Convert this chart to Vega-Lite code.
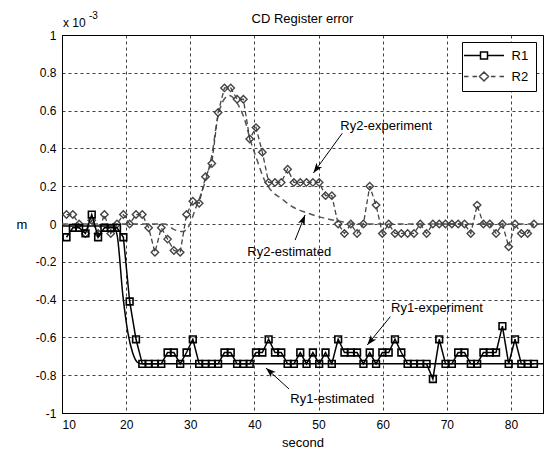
{
 "$schema": "https://vega.github.io/schema/vega-lite/v6.json",
 "width": 481,
 "height": 378,
 "autosize": {"type": "none"},
 "padding": {"left": 62, "top": 35, "right": 4, "bottom": 42},
 "background": "white",
 "title": {"text": "CD Register error", "font": "Liberation Sans", "fontSize": 13, "fontWeight": "normal", "color": "#000", "offset": -15, "anchor": "middle"},
 "config": {
  "view": {"stroke": "#000", "strokeWidth": 1},
  "font": "Liberation Sans",
  "axis": {"labelFont": "Liberation Sans", "labelFontSize": 12, "labelColor": "#000", "titleFont": "Liberation Sans", "titleFontSize": 13, "titleFontWeight": "normal", "titleColor": "#000", "domainColor": "#000", "tickSize": 0, "grid": true, "gridColor": "#000", "gridDash": [3, 3], "gridOpacity": 0.75, "gridWidth": 1},
  "legend": {"orient": "top-right", "offset": 7, "padding": 7, "strokeColor": "#000", "fillColor": "#fff", "labelFont": "Liberation Sans", "labelFontSize": 13, "labelColor": "#000", "symbolSize": 100, "symbolStrokeWidth": 1.5, "symbolOffset": 8.5, "rowPadding": 6, "labelOffset": 21, "cornerRadius": 0, "strokeWidth": 1}
 },
 "datasets": {
  "exp": [
   {"t": 10.70, "r1": -0.07, "r2": 0.05},
   {"t": 11.69, "r1": -0.02, "r2": 0.05},
   {"t": 12.67, "r1": -0.02, "r2": 0.0},
   {"t": 13.66, "r1": -0.05, "r2": -0.05},
   {"t": 14.64, "r1": 0.05, "r2": 0.02},
   {"t": 15.63, "r1": -0.07, "r2": -0.05},
   {"t": 16.61, "r1": -0.02, "r2": 0.05},
   {"t": 17.60, "r1": -0.02, "r2": -0.05},
   {"t": 18.58, "r1": -0.02, "r2": 0.0},
   {"t": 19.57, "r1": -0.07, "r2": 0.05},
   {"t": 20.55, "r1": -0.41, "r2": 0.0},
   {"t": 21.54, "r1": -0.61, "r2": 0.05},
   {"t": 22.52, "r1": -0.74, "r2": 0.05},
   {"t": 23.51, "r1": -0.74, "r2": -0.02},
   {"t": 24.49, "r1": -0.74, "r2": -0.15},
   {"t": 25.48, "r1": -0.74, "r2": -0.02},
   {"t": 26.46, "r1": -0.68, "r2": -0.08},
   {"t": 27.45, "r1": -0.68, "r2": -0.14},
   {"t": 28.43, "r1": -0.74, "r2": -0.15},
   {"t": 29.42, "r1": -0.68, "r2": 0.05},
   {"t": 30.40, "r1": -0.61, "r2": 0.12},
   {"t": 31.39, "r1": -0.74, "r2": 0.11},
   {"t": 32.37, "r1": -0.74, "r2": 0.25},
   {"t": 33.36, "r1": -0.74, "r2": 0.32},
   {"t": 34.34, "r1": -0.74, "r2": 0.59},
   {"t": 35.33, "r1": -0.68, "r2": 0.72},
   {"t": 36.31, "r1": -0.68, "r2": 0.72},
   {"t": 37.30, "r1": -0.74, "r2": 0.66},
   {"t": 38.28, "r1": -0.74, "r2": 0.66},
   {"t": 39.27, "r1": -0.74, "r2": 0.45},
   {"t": 40.25, "r1": -0.68, "r2": 0.51},
   {"t": 41.24, "r1": -0.68, "r2": 0.38},
   {"t": 42.22, "r1": -0.61, "r2": 0.22},
   {"t": 43.21, "r1": -0.68, "r2": 0.22},
   {"t": 44.19, "r1": -0.68, "r2": 0.22},
   {"t": 45.18, "r1": -0.74, "r2": 0.29},
   {"t": 46.16, "r1": -0.74, "r2": 0.22},
   {"t": 47.15, "r1": -0.68, "r2": 0.22},
   {"t": 48.13, "r1": -0.74, "r2": 0.22},
   {"t": 49.12, "r1": -0.68, "r2": 0.22},
   {"t": 50.10, "r1": -0.74, "r2": 0.22},
   {"t": 51.09, "r1": -0.68, "r2": 0.15},
   {"t": 52.07, "r1": -0.74, "r2": 0.15},
   {"t": 53.06, "r1": -0.61, "r2": 0.0},
   {"t": 54.04, "r1": -0.68, "r2": -0.05},
   {"t": 55.03, "r1": -0.68, "r2": 0.0},
   {"t": 56.01, "r1": -0.68, "r2": -0.05},
   {"t": 57.00, "r1": -0.74, "r2": 0.0},
   {"t": 57.98, "r1": -0.68, "r2": 0.2},
   {"t": 58.97, "r1": -0.74, "r2": 0.1},
   {"t": 59.95, "r1": -0.68, "r2": -0.05},
   {"t": 60.94, "r1": -0.68, "r2": 0.0},
   {"t": 61.92, "r1": -0.61, "r2": -0.05},
   {"t": 62.91, "r1": -0.68, "r2": -0.05},
   {"t": 63.89, "r1": -0.74, "r2": -0.05},
   {"t": 64.88, "r1": -0.74, "r2": -0.05},
   {"t": 65.86, "r1": -0.74, "r2": 0.0},
   {"t": 66.85, "r1": -0.74, "r2": -0.05},
   {"t": 67.83, "r1": -0.82, "r2": 0.0},
   {"t": 68.82, "r1": -0.61, "r2": 0.0},
   {"t": 69.80, "r1": -0.74, "r2": 0.0},
   {"t": 70.79, "r1": -0.74, "r2": 0.0},
   {"t": 71.77, "r1": -0.68, "r2": 0.0},
   {"t": 72.76, "r1": -0.68, "r2": 0.0},
   {"t": 73.74, "r1": -0.74, "r2": -0.05},
   {"t": 74.73, "r1": -0.74, "r2": 0.1},
   {"t": 75.71, "r1": -0.68, "r2": 0.0},
   {"t": 76.70, "r1": -0.68, "r2": 0.0},
   {"t": 77.68, "r1": -0.68, "r2": -0.05},
   {"t": 78.67, "r1": -0.54, "r2": 0.0},
   {"t": 79.65, "r1": -0.74, "r2": -0.12},
   {"t": 80.64, "r1": -0.61, "r2": 0.0},
   {"t": 81.62, "r1": -0.74, "r2": -0.05},
   {"t": 82.61, "r1": -0.74, "r2": -0.05},
   {"t": 83.59, "r1": -0.74, "r2": 0.0}
  ],
  "est1": [
   {"t": 10.0, "v": -0.01}, {"t": 18.0, "v": -0.01}, {"t": 18.6, "v": -0.06}, {"t": 19.5, "v": -0.38},
   {"t": 20.3, "v": -0.58}, {"t": 21.0, "v": -0.68}, {"t": 21.7, "v": -0.73}, {"t": 22.3, "v": -0.74},
   {"t": 85.0, "v": -0.74}
  ],
  "est2": [
   {"t": 10.0, "v": 0.0}, {"t": 26.0, "v": 0.0}, {"t": 27.5, "v": -0.03}, {"t": 28.8, "v": -0.04},
   {"t": 29.8, "v": -0.01}, {"t": 30.8, "v": 0.08}, {"t": 31.8, "v": 0.17}, {"t": 32.8, "v": 0.28},
   {"t": 33.4, "v": 0.37}, {"t": 34.2, "v": 0.55}, {"t": 35.1, "v": 0.65}, {"t": 36.1, "v": 0.68},
   {"t": 37.1, "v": 0.65}, {"t": 38.5, "v": 0.55}, {"t": 39.4, "v": 0.44}, {"t": 40.4, "v": 0.34},
   {"t": 41.6, "v": 0.23}, {"t": 42.8, "v": 0.17}, {"t": 44.0, "v": 0.14}, {"t": 46.0, "v": 0.09},
   {"t": 48.1, "v": 0.06}, {"t": 51.0, "v": 0.03}, {"t": 54.0, "v": 0.01}, {"t": 57.0, "v": 0.0},
   {"t": 85.0, "v": 0.0}
  ],
  "labels": [
   {"label": "Ry2-experiment", "t": 53.4, "v": 0.52},
   {"label": "Ry2-estimated", "t": 38.9, "v": -0.15},
   {"label": "Ry1-experiment", "t": 61.3, "v": -0.445},
   {"label": "Ry1-estimated", "t": 45.6, "v": -0.926}
  ],
  "arrows": [
   {"label": "Ry2-experiment", "t": 49.2, "v": 0.27, "t2": 53.7, "v2": 0.48},
   {"label": "Ry2-estimated", "t": 47.9, "v": 0.048, "t2": 46.35, "v2": -0.085},
   {"label": "Ry1-experiment", "t": 57.6, "v": -0.64, "t2": 61.2, "v2": -0.49},
   {"label": "Ry1-estimated", "t": 41.8, "v": -0.762, "t2": 45.4, "v2": -0.873}
  ],
  "sci": [{"txt": "x 10", "t": 10, "v": 1}],
  "sciexp": [{"txt": "-3", "t": 10, "v": 1}],
  "keys": [{"s": "R1"}, {"s": "R2"}]
 },
 "encoding": {
  "x": {"field": "t", "type": "quantitative", "title": "second", "scale": {"domain": [10, 85], "nice": false, "zero": false}, "axis": {"values": [10, 20, 30, 40, 50, 60, 70, 80], "labelPadding": 6, "titlePadding": 6}},
  "y": {"field": "v", "type": "quantitative", "title": "m", "scale": {"domain": [-1, 1], "nice": false, "zero": false}, "axis": {"values": [-1, -0.8, -0.6, -0.4, -0.2, 0, 0.2, 0.4, 0.6, 0.8, 1], "labelExpr": "datum.value < 0 ? '-' + format(-datum.value, '~g') : format(datum.value, '~g')", "labelPadding": 6, "titlePadding": 14, "titleAngle": 0, "titleBaseline": "middle"}}
 },
 "layer": [
  {"data": {"name": "est2"}, "mark": {"type": "line", "color": "#555", "strokeWidth": 1.5, "strokeDash": [6, 4], "interpolate": "monotone", "clip": true}},
  {"data": {"name": "exp"}, "transform": [{"fold": ["r2"], "as": ["s", "v"]}], "mark": {"type": "line", "color": "#444", "strokeWidth": 1.3, "strokeDash": [5, 3]}},
  {"data": {"name": "exp"}, "transform": [{"fold": ["r2"], "as": ["s", "v"]}], "mark": {"type": "point", "shape": "diamond", "filled": false, "color": "#444", "size": 55, "strokeWidth": 1.4, "opacity": 1}},
  {"data": {"name": "est1"}, "mark": {"type": "line", "color": "#000", "strokeWidth": 1.5, "interpolate": "monotone", "clip": true}},
  {"data": {"name": "exp"}, "transform": [{"fold": ["r1"], "as": ["s", "v"]}], "mark": {"type": "line", "color": "#000", "strokeWidth": 1.5}},
  {"data": {"name": "exp"}, "transform": [{"fold": ["r1"], "as": ["s", "v"]}], "mark": {"type": "point", "shape": "square", "filled": false, "color": "#000", "size": 45, "strokeWidth": 1.6, "opacity": 1}},
  {"data": {"name": "keys"}, "mark": {"type": "point", "filled": false, "clip": true, "strokeWidth": 1.5, "size": 100, "opacity": 1},
   "encoding": {
    "x": {"datum": 10}, "y": {"datum": 5},
    "shape": {"field": "s", "type": "nominal", "scale": {"domain": ["R1", "R2"], "range": ["M-4,0H-0.7M0.7,0H4M-0.7,-0.7H0.7V0.7H-0.7Z", "M-4,0H-3.1M-2.3,0H-1.4M1.4,0H2.3M3.1,0H4M0,-0.9L0.9,0L0,0.9L-0.9,0Z"]}, "legend": {"title": null}},
    "color": {"field": "s", "type": "nominal", "scale": {"domain": ["R1", "R2"], "range": ["#000000", "#444444"]}, "legend": {"title": null}}
   }},
  {"data": {"name": "labels"}, "mark": {"type": "text", "align": "left", "baseline": "middle", "font": "Liberation Sans", "fontSize": 13, "color": "#000"}, "encoding": {"text": {"field": "label"}}},
  {"data": {"name": "arrows"}, "mark": {"type": "rule", "color": "#000", "strokeWidth": 1}, "encoding": {"x2": {"field": "t2"}, "y2": {"field": "v2"}}},
  {"data": {"name": "arrows"}, "transform": [{"filter": "datum.label === 'Ry2-experiment'"}], "mark": {"type": "point", "shape": "M0,0L0.7,2L0,1.5L-0.7,2Z", "filled": true, "color": "#000", "size": 100, "angle": 216, "opacity": 1}},
  {"data": {"name": "arrows"}, "transform": [{"filter": "datum.label === 'Ry2-estimated'"}], "mark": {"type": "point", "shape": "M0,0L0.7,2L0,1.5L-0.7,2Z", "filled": true, "color": "#000", "size": 100, "angle": 22, "opacity": 1}},
  {"data": {"name": "arrows"}, "transform": [{"filter": "datum.label === 'Ry1-experiment'"}], "mark": {"type": "point", "shape": "M0,0L0.7,2L0,1.5L-0.7,2Z", "filled": true, "color": "#000", "size": 100, "angle": 219, "opacity": 1}},
  {"data": {"name": "arrows"}, "transform": [{"filter": "datum.label === 'Ry1-estimated'"}], "mark": {"type": "point", "shape": "M0,0L0.7,2L0,1.5L-0.7,2Z", "filled": true, "color": "#000", "size": 100, "angle": 312, "opacity": 1}},
  {"data": {"name": "sci"}, "mark": {"type": "text", "align": "left", "baseline": "middle", "dx": 1, "dy": -12, "font": "Liberation Sans", "fontSize": 12, "color": "#000"}, "encoding": {"text": {"field": "txt"}}},
  {"data": {"name": "sciexp"}, "mark": {"type": "text", "align": "left", "baseline": "middle", "dx": 27, "dy": -19, "font": "Liberation Sans", "fontSize": 10, "color": "#000"}, "encoding": {"text": {"field": "txt"}}}
 ]
}
